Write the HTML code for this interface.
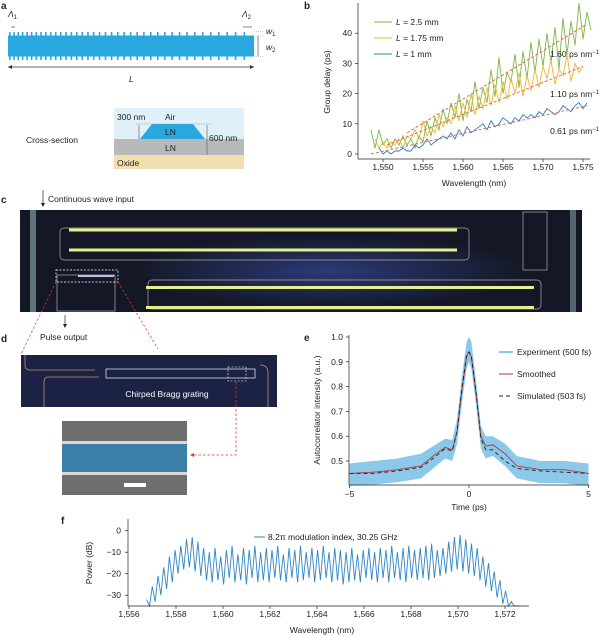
<!DOCTYPE html>
<html><head><meta charset="utf-8"><style>
body{margin:0;background:#fff;}
svg{display:block;font-family:"Liberation Sans",sans-serif;}
text{font-size:8.5px;fill:#222;}
.lab{font-weight:bold;font-size:10px;}
</style></head><body>
<svg id="fig" width="600" height="637" viewBox="0 0 600 637">
<!-- Panel a -->
<text class="lab" x="1" y="9">a</text>
<g id="pa">
<rect x="8" y="35.5" width="246" height="21" fill="#29a7df"/>
<text x="8" y="17" font-style="italic">Λ<tspan font-size="6" dy="2" font-style="normal">1</tspan></text>
<text x="242" y="17" font-style="italic">Λ<tspan font-size="6" dy="2" font-style="normal">2</tspan></text>
<line x1="243" y1="27" x2="252" y2="27" stroke="#333" stroke-width="0.6"/>
<line x1="11" y1="27" x2="15" y2="27" stroke="#333" stroke-width="0.6"/>
<line x1="8" y1="67" x2="254" y2="67" stroke="#333" stroke-width="0.8"/>
<path d="M8 67 l4 -2 v4z M254 67 l-4 -2 v4z" fill="#333"/>
<text x="129" y="82" font-style="italic">L</text>
<line x1="258" y1="36" x2="258" y2="56" stroke="#333" stroke-width="0.6"/>
<line x1="254" y1="31.5" x2="263" y2="31.5" stroke="#999" stroke-width="0.5" stroke-dasharray="1,1"/>
<line x1="254" y1="36" x2="263" y2="36" stroke="#999" stroke-width="0.5" stroke-dasharray="1,1"/>
<line x1="254" y1="56.5" x2="263" y2="56.5" stroke="#999" stroke-width="0.5" stroke-dasharray="1,1"/>
<text x="266" y="34" font-style="italic">w<tspan font-size="6" dy="2" font-style="normal">1</tspan></text>
<text x="266" y="50" font-style="italic">w<tspan font-size="6" dy="2" font-style="normal">2</tspan></text>
</g>
<g>
<text x="26" y="143">Cross-section</text>
<rect x="114" y="108" width="130" height="31" fill="#dff0f9"/>
<rect x="114" y="139" width="130" height="16" fill="#b9b9b9"/>
<rect x="114" y="155" width="130" height="14" fill="#f2dfb0"/>
<polygon points="152,124 193,124 205,139 140,139" fill="#29a7df"/>
<line x1="136" y1="124" x2="212" y2="124" stroke="#888" stroke-width="0.5" stroke-dasharray="1.5,1"/>
<line x1="139" y1="125" x2="139" y2="139" stroke="#555" stroke-width="0.6"/>
<line x1="207" y1="125" x2="207" y2="155" stroke="#555" stroke-width="0.6"/>
<text x="117" y="120">300 nm</text><text x="165" y="120">Air</text>
<text x="165" y="135">LN</text><text x="209" y="141">600 nm</text>
<text x="165" y="151">LN</text><text x="117" y="166">Oxide</text>
</g>

<!-- Panel b -->
<text class="lab" x="304" y="9">b</text>
<g id="pb"></g>

<!-- Panel c -->
<text class="lab" x="1" y="203">c</text>
<line x1="43" y1="190" x2="43" y2="205" stroke="#222" stroke-width="0.7"/><path d="M43 207 l-2 -4 h4z" fill="#222"/>
<text x="48" y="202">Continuous wave input</text>
<g>
<defs><radialGradient id="glow" cx="0.55" cy="0.6" r="0.35"><stop offset="0" stop-color="#2c3a78"/><stop offset="1" stop-color="#141826"/></radialGradient></defs>
<rect x="20" y="210" width="562" height="102" fill="url(#glow)"/>
<rect x="30" y="210" width="6" height="102" fill="#7d9b9c" opacity="0.7"/>
<rect x="570" y="210" width="6" height="102" fill="#7d9b9c" opacity="0.6"/>
<g fill="none" stroke="#b4a7a8" stroke-width="0.7">
<rect x="60" y="228" width="409" height="32" rx="4"/>
<rect x="148" y="280" width="393" height="29" rx="4"/>
<rect x="57" y="275" width="58" height="36"/>
<rect x="523" y="212" width="24" height="58"/>
</g>
<rect x="69" y="228.5" width="388" height="3" fill="#e6f08a"/>
<rect x="69" y="248.5" width="388" height="3" fill="#e6f08a"/>
<rect x="146" y="286" width="388" height="3" fill="#e6f08a"/>
<rect x="146" y="306" width="388" height="3" fill="#e6f08a"/>
<rect x="78" y="275" width="36" height="2" fill="#b8c0ea"/>
<rect x="56" y="270" width="62" height="12" fill="none" stroke="#fff" stroke-width="0.7" stroke-dasharray="2,1.5"/>
</g>
<line x1="56" y1="282" x2="21" y2="354" stroke="#e03a2a" stroke-width="0.7" stroke-dasharray="2.5,2"/>
<line x1="118" y1="282" x2="158" y2="349" stroke="#e03a2a" stroke-width="0.7" stroke-dasharray="2.5,2"/>

<!-- Panel d -->
<text class="lab" x="1" y="342">d</text>
<line x1="65" y1="315" x2="65" y2="326" stroke="#222" stroke-width="0.7"/><path d="M65 328 l-2 -4 h4z" fill="#222"/>
<text x="40" y="340">Pulse output</text>
<g>
<rect x="21" y="355" width="256" height="52" fill="#1b2243"/>
<path d="M25 355 v10 q0 5 5 5 h65 M260 365 q8 0 8 8 v34 M44 407 v-25 q0 -5 5 -5 h50" fill="none" stroke="#c28a6a" stroke-width="0.8"/>
<rect x="106" y="369" width="149" height="9" fill="none" stroke="#dde" stroke-width="0.8"/>
<rect x="228" y="367" width="18" height="14" fill="none" stroke="#fff" stroke-width="0.6" stroke-dasharray="2,1.5"/>
<text x="167" y="397" text-anchor="middle" style="fill:#fff;font-size:8.5px">Chirped Bragg grating</text>
</g>
<path d="M236 382 V455 H193" fill="none" stroke="#e03a2a" stroke-width="0.8" stroke-dasharray="2.5,2"/>
<path d="M190 455 l4 -2 v4z" fill="#e03a2a"/>
<g>
<rect x="62" y="421" width="125" height="74" fill="#6e6e6e"/>
<rect x="62" y="441" width="125" height="34" fill="#d8d8d8"/>
<rect x="62" y="444" width="125" height="28" fill="#3c7fa8"/>
<rect x="124" y="483" width="22" height="4" fill="#fff"/>
</g>

<!-- Panel e -->
<text class="lab" x="304" y="341">e</text>
<g id="pe"></g>

<!-- Panel f -->
<text class="lab" x="61" y="524">f</text>
<g id="pf"></g>
</svg>
<script>
// ---------- Panel a teeth (chirped) ----------
const toothPitchStart = 4.2, toothPitchEnd = 9;
// ---------- Panel b data ----------
const bStart = [1548.5, 1549, 1549.5];
const bStep = 0.5;
const greenDelay = [8,2,8,3,5,2,5,3,6,3,5,2,6,4,11,6,12,8,15,10,17,12,20,11,18,14,24,15,22,17,28,19,32,20,27,24,33,22,34,25,37,27,38,29,40,30,42,28,45,33,44,36,50,38,47,41];
const yellowDelay = [5,2,4,2,4,3,5,2,6,5,8,5,11,6,9,7,13,9,12,10,16,11,17,12,20,13,19,15,22,16,23,17,24,18,25,20,27,19,26,21,28,22,29,25,31,23,28,26,33,24,30,27,29];
const blueDelay = [2,0,1,0,1,1,2,1,1,3,2,3,5,3,4,5,6,5,7,5,8,6,9,7,8,9,10,8,11,9,10,12,11,10,12,11,13,12,13,12,14,13,15,14,13,14,16,15,14,16,17,15,17];
const fitX0 = [1553, 1550.5, 1548.5], fitX1 = [1575.5, 1575, 1575.5];
const fitY0 = [7, 3, 0], fitY1 = [43, 29, 16];
const bLegend = ["2.5 mm","1.75 mm","1 mm"];
const bSlopes = ["1.60","1.10","0.61"];
const bXTicks = [1550,1555,1560,1565,1570,1575];
const bYTicks = [0,10,20,30,40];
// ---------- Panel e data ----------
const eTime = [-5,-4,-3,-2,-1.5,-1,-0.7,-0.5,-0.3,-0.1,0,0.1,0.3,0.5,0.7,1,1.5,2,3,4,5];
const eSmoothed = [.45,.455,.465,.48,.52,.555,.545,.62,.78,.92,.94,.92,.77,.6,.56,.565,.53,.48,.465,.465,.45];
const eSimulated = [.45,.45,.46,.475,.51,.55,.54,.62,.79,.93,.94,.92,.77,.59,.545,.545,.5,.47,.46,.455,.45];
const eUpper = [.49,.5,.51,.53,.56,.59,.585,.67,.84,.98,1.0,.98,.82,.64,.6,.6,.57,.52,.5,.5,.49];
const eLower = [.4,.405,.415,.43,.47,.51,.5,.57,.73,.87,.9,.87,.72,.55,.51,.52,.48,.43,.41,.41,.4];
const eXTicks = [-5,0,5];
const eYTicks = [0.5,0.6,0.7,0.8,0.9,1.0];
// ---------- Panel f data ----------
const fStart = 1556.75, fSpacing = 0.2425;
const fPeaks = [-32,-26,-21,-17,-12,-9,-7,-4,-3,-5,-8,-10,-8,-12,-9,-7,-11,-8,-9,-7,-10,-8,-9,-7,-11,-8,-9,-7,-10,-8,-9,-7,-10,-8,-9,-10,-8,-11,-9,-8,-10,-8,-9,-7,-10,-8,-7,-9,-8,-7,-6,-9,-8,-5,-3,-2,-4,-6,-8,-12,-15,-19,-23,-28,-33,-35];
const fValleys = [-36,-33,-30,-27,-24,-20,-18,-17,-19,-21,-23,-24,-23,-25,-22,-24,-23,-25,-22,-24,-23,-24,-22,-23,-24,-22,-24,-23,-22,-24,-23,-22,-24,-23,-25,-24,-23,-24,-22,-23,-24,-22,-24,-22,-23,-24,-22,-23,-22,-23,-22,-21,-20,-19,-18,-19,-20,-21,-23,-26,-28,-31,-34,-36,-36,-36];
const fXTicks = [1556,1558,1560,1562,1564,1566,1568,1570,1572];
const fYTicks = [0,-10,-20,-30];

const NS = "http://www.w3.org/2000/svg";
function mk(parent, tag, attrs, txt){const e=document.createElementNS(NS,tag);for(const k in attrs)e.setAttribute(k,attrs[k]);if(txt!==undefined)e.textContent=txt;parent.appendChild(e);return e;}

// teeth
(function(){
  const g=document.getElementById('pa');
  let x=9;
  while(x<252){
    const p=toothPitchStart+(toothPitchEnd-toothPitchStart)*(x-9)/243;
    const t1=mk(g,'rect',{x:x,y:32,width:1.6,height:4,fill:'#29a7df'});
    
    
    const t2=mk(g,'rect',{x:x,y:56,width:1.6,height:4,fill:'#29a7df'});
    
    
    x+=p;
  }
})();

// Panel b
(function(){
  const g=document.getElementById('pb');
  const X=v=>383+(v-1550)*8, Y=v=>154-v*3.02;
  mk(g,'line',{x1:358,y1:3,x2:358,y2:159,stroke:'#222','stroke-width':0.7});
  mk(g,'line',{x1:358,y1:159,x2:590,y2:159,stroke:'#222','stroke-width':0.7});
  bXTicks.forEach(t=>{mk(g,'line',{x1:X(t),y1:159,x2:X(t),y2:162,stroke:'#222','stroke-width':0.7});
    const l=mk(g,'text',{x:X(t),y:170,'text-anchor':'middle'},t.toLocaleString('en-US'));
    
    });
  bYTicks.forEach(t=>{mk(g,'line',{x1:355,y1:Y(t),x2:358,y2:Y(t),stroke:'#222','stroke-width':0.7});
    const l=mk(g,'text',{x:352,y:Y(t)+3,'text-anchor':'end'},t);
    
    });
  const xt=mk(g,'text',{x:474,y:186,'text-anchor':'middle'},'Wavelength (nm)');
  
  
  const yt=mk(g,'text',{x:330,y:82,'text-anchor':'middle',transform:'rotate(-90 330 82)'},'Group delay (ps)');
  
  
  const series=[greenDelay,yellowDelay,blueDelay], cols=['#7db544','#f0b730','#2f7fc1'];
  series.forEach((s,k)=>{
    const d=s.map((v,i)=>(i?'L':'M')+X(bStart[k]+i*bStep).toFixed(1)+' '+Y(v).toFixed(1)).join(' ');
    const p=mk(g,'path',{d:d,fill:'none',stroke:cols[k],'stroke-width':0.9});
    
    
  });
  fitX0.forEach((x0,k)=>{
    const l=mk(g,'line',{x1:X(x0),y1:Y(fitY0[k]),x2:X(fitX1[k]),y2:Y(fitY1[k]),stroke:'#e0603a','stroke-width':0.9,'stroke-dasharray':'3,2'});
    
    
  });
  bLegend.forEach((t,k)=>{
    const y=22+k*16;
    const ln=mk(g,'line',{x1:374,y1:y,x2:392,y2:y,stroke:cols[k],'stroke-width':1});
    
    
    const tx=mk(g,'text',{x:396,y:y+3});
    
    
    mk(tx,'tspan',{'font-style':'italic'},'L');
    mk(tx,'tspan',{},' = '+t);
  });
  bSlopes.forEach((s,k)=>{
    const y=[57,97,134][k];
    const tx=mk(g,'text',{x:599,y:y,'text-anchor':'end'});
    
    
    mk(tx,'tspan',{},s+' ps nm');
    mk(tx,'tspan',{'font-size':6,dy:-3},'−1');
  });
})();

// Panel e
(function(){
  const g=document.getElementById('pe');
  const X=v=>469+v*23.9, Y=v=>337-(v-1)*248;
  const up=eTime.map((t,i)=>X(t).toFixed(1)+','+Y(eUpper[i]).toFixed(1));
  const lo=eTime.map((t,i)=>X(t).toFixed(1)+','+Y(eLower[i]).toFixed(1)).reverse();
  const band=mk(g,'polygon',{points:up.concat(lo).join(' '),fill:'#8cc8ea'});
  
  
  const line=(arr,col,dash,name)=>{const d=eTime.map((t,i)=>(i?'L':'M')+X(t).toFixed(1)+' '+Y(arr[i]).toFixed(1)).join(' ');
    const p=mk(g,'path',{d:d,fill:'none',stroke:col,'stroke-width':0.9,'stroke-dasharray':dash});
    
    };
  line(eSmoothed,'#b23a3a','none','smoothed-line');
  line(eSimulated,'#222','4,3','simulated-line');
  mk(g,'line',{x1:349,y1:335,x2:349,y2:485,stroke:'#222','stroke-width':0.7});
  mk(g,'line',{x1:349,y1:485,x2:589,y2:485,stroke:'#222','stroke-width':0.7});
  eXTicks.forEach(t=>{mk(g,'line',{x1:X(t),y1:485,x2:X(t),y2:488,stroke:'#222','stroke-width':0.7});
    const l=mk(g,'text',{x:X(t),y:497,'text-anchor':'middle'},t<0?'−'+(-t):t);
    
    });
  eYTicks.forEach(t=>{mk(g,'line',{x1:346,y1:Y(t),x2:349,y2:Y(t),stroke:'#222','stroke-width':0.7});
    const l=mk(g,'text',{x:343,y:Y(t)+3,'text-anchor':'end'},t.toFixed(1));
    
    });
  const xt=mk(g,'text',{x:469,y:510,'text-anchor':'middle'},'Time (ps)');
  
  
  const yt=mk(g,'text',{x:320,y:410,'text-anchor':'middle',transform:'rotate(-90 320 410)'},'Autocorrelator intensity (a.u.)');
  
  
  const leg=[['Experiment (500 fs)','#8cc8ea','none',2],['Smoothed','#b23a3a','none',1],['Simulated (503 fs)','#222','4,3',1]];
  leg.forEach((L,k)=>{const y=352+k*22;
    const sw=mk(g,'line',{x1:499,y1:y,x2:513,y2:y,stroke:L[1],'stroke-width':L[3],'stroke-dasharray':L[2]});
    
    
    const tx=mk(g,'text',{x:517,y:y+3},L[0]);
    
    });
})();

// Panel f
(function(){
  const g=document.getElementById('pf');
  const X=v=>129+(v-1556)*23.5, Y=v=>530.7-Math.max(v,-35)*2.15;
  let d='';
  fPeaks.forEach((p,i)=>{
    const x=fStart+i*fSpacing;
    d+=(i?'L':'M')+X(x).toFixed(1)+' '+Y(p).toFixed(1)+' L'+X(x+fSpacing/2).toFixed(1)+' '+Y(fValleys[i]).toFixed(1)+' ';
  });
  const p=mk(g,'path',{d:d,fill:'none',stroke:'#2f86c6','stroke-width':0.9});
  
  
  mk(g,'line',{x1:128,y1:519,x2:128,y2:606,stroke:'#222','stroke-width':0.7});
  mk(g,'line',{x1:128,y1:606,x2:529,y2:606,stroke:'#222','stroke-width':0.7});
  fXTicks.forEach(t=>{mk(g,'line',{x1:X(t),y1:606,x2:X(t),y2:609,stroke:'#222','stroke-width':0.7});
    const l=mk(g,'text',{x:X(t),y:617,'text-anchor':'middle'},t.toLocaleString('en-US'));
    
    });
  fYTicks.forEach(t=>{mk(g,'line',{x1:125,y1:Y(t),x2:128,y2:Y(t),stroke:'#222','stroke-width':0.7});
    const l=mk(g,'text',{x:121,y:Y(t)+3,'text-anchor':'end'},t<0?'−'+(-t):t);
    
    });
  const xt=mk(g,'text',{x:322,y:633,'text-anchor':'middle'},'Wavelength (nm)');
  
  
  const yt=mk(g,'text',{x:92,y:563,'text-anchor':'middle',transform:'rotate(-90 92 563)'},'Power (dB)');
  
  
  const sw=mk(g,'line',{x1:254,y1:537,x2:265,y2:537,stroke:'#2f86c6','stroke-width':1});
  
  
  const tx=mk(g,'text',{x:268,y:540},'8.2π modulation index, 30.25 GHz');
  
  
})();
</script>
</body></html>
